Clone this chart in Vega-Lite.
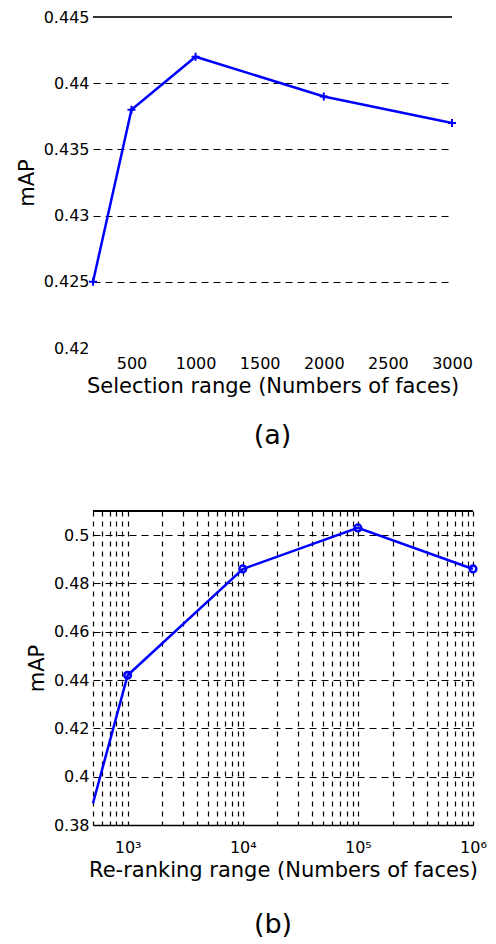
{
  "$schema": "https://vega.github.io/schema/vega-lite/v6.json",
  "padding": {"left": 16, "top": 9, "right": 5, "bottom": 0},
  "background": "white",
  "config": {
    "font": "DejaVu Sans",
    "view": {"stroke": null},
    "axis": {
      "labelFont": "DejaVu Sans", "labelFontSize": 16, "labelColor": "#000",
      "titleFont": "DejaVu Sans", "titleFontSize": 21, "titleFontWeight": "normal", "titleColor": "#000",
      "gridColor": "#000", "gridDash": [7, 5], "gridOpacity": 1, "gridWidth": 1.2,
      "ticks": false, "domain": false
    },
    "title": {"font": "DejaVu Sans", "fontSize": 27, "fontWeight": "normal", "color": "#000"}
  },
  "spacing": 61,
  "vconcat": [
    {
      "width": 359,
      "height": 331,
      "title": {"text": "(a)", "orient": "bottom", "offset": 27, "frame": "group"},
      "data": {"values": [
        {"range": 200, "mAP": 0.425},
        {"range": 500, "mAP": 0.438},
        {"range": 1000, "mAP": 0.442},
        {"range": 2000, "mAP": 0.439},
        {"range": 3000, "mAP": 0.437}
      ]},
      "layer": [
        {
          "mark": {"type": "line", "color": "#0000ff", "strokeWidth": 2.5},
          "encoding": {
            "x": {"field": "range", "type": "quantitative", "scale": {"domain": [200, 3000], "nice": false},
              "axis": {"values": [500, 1000, 1500, 2000, 2500, 3000], "format": "d", "grid": false, "labelPadding": 7,
                "title": "Selection range (Numbers of faces)", "titlePadding": 4, "labelFlush": false}},
            "y": {"field": "mAP", "type": "quantitative", "scale": {"domain": [0.42, 0.445], "zero": false, "nice": false},
              "axis": {"values": [0.42, 0.425, 0.43, 0.435, 0.44, 0.445], "format": ".3~f",
                "gridOpacity": {"condition": {"test": "datum.value < 0.4225 || datum.value > 0.4425", "value": 0}, "value": 1},
                "title": "mAP", "titlePadding": 6, "labelPadding": 4}}
          }
        },
        {
          "mark": {"type": "point", "shape": "M-1,0L1,0M0,-1L0,1", "color": "#0000ff", "filled": false, "strokeWidth": 2, "size": 64, "opacity": 1},
          "encoding": {
            "x": {"field": "range", "type": "quantitative"},
            "y": {"field": "mAP", "type": "quantitative"}
          }
        },
        {
          "mark": {"type": "rule", "color": "#333", "strokeWidth": 1.5},
          "encoding": {"y": {"datum": 0.445, "type": "quantitative"}}
        }
      ]
    },
    {
      "width": 380,
      "height": 314,
      "title": {"text": "(b)", "orient": "bottom", "offset": 32, "frame": "group", "dx": -10},
      "data": {"values": [
        {"range": 500, "mAP": 0.389},
        {"range": 1000, "mAP": 0.442},
        {"range": 10000, "mAP": 0.486},
        {"range": 100000, "mAP": 0.503},
        {"range": 1000000, "mAP": 0.486}
      ]},
      "layer": [
        {
          "mark": {"type": "line", "color": "#0000ff", "strokeWidth": 2.5},
          "encoding": {
            "x": {"field": "range", "type": "quantitative", "scale": {"type": "log", "domain": [500, 1000000], "nice": false},
              "axis": {
                "values": [500, 600, 700, 800, 900, 1000, 2000, 3000, 4000, 5000, 6000, 7000, 8000, 9000, 10000, 20000, 30000, 40000, 50000, 60000, 70000, 80000, 90000, 100000, 200000, 300000, 400000, 500000, 600000, 700000, 800000, 900000, 1000000],
                "labelExpr": "datum.value == 1000 ? '10³' : datum.value == 10000 ? '10⁴' : datum.value == 100000 ? '10⁵' : datum.value == 1000000 ? '10⁶' : ''",
                "grid": true, "gridDash": [5, 5], "domain": true, "domainColor": "#000", "domainWidth": 1.5,
                "labelFlush": false, "labelOverlap": false, "labelPadding": 14,
                "title": "Re-ranking range (Numbers of faces)", "titlePadding": 4}},
            "y": {"field": "mAP", "type": "quantitative", "scale": {"domain": [0.38, 0.51], "zero": false, "nice": false},
              "axis": {"values": [0.38, 0.4, 0.42, 0.44, 0.46, 0.48, 0.5], "format": ".2~f",
                "title": "mAP", "titlePadding": 6, "labelPadding": 4}}
          }
        },
        {
          "transform": [{"filter": "datum.range >= 1000"}],
          "mark": {"type": "point", "shape": "circle", "color": "#0000ff", "filled": false, "strokeWidth": 2.5, "size": 45, "opacity": 1},
          "encoding": {
            "x": {"field": "range", "type": "quantitative"},
            "y": {"field": "mAP", "type": "quantitative"}
          }
        },
        {
          "mark": {"type": "rule", "color": "#000", "strokeWidth": 1.5},
          "encoding": {"y": {"datum": 0.51, "type": "quantitative"}}
        }
      ]
    }
  ]
}
